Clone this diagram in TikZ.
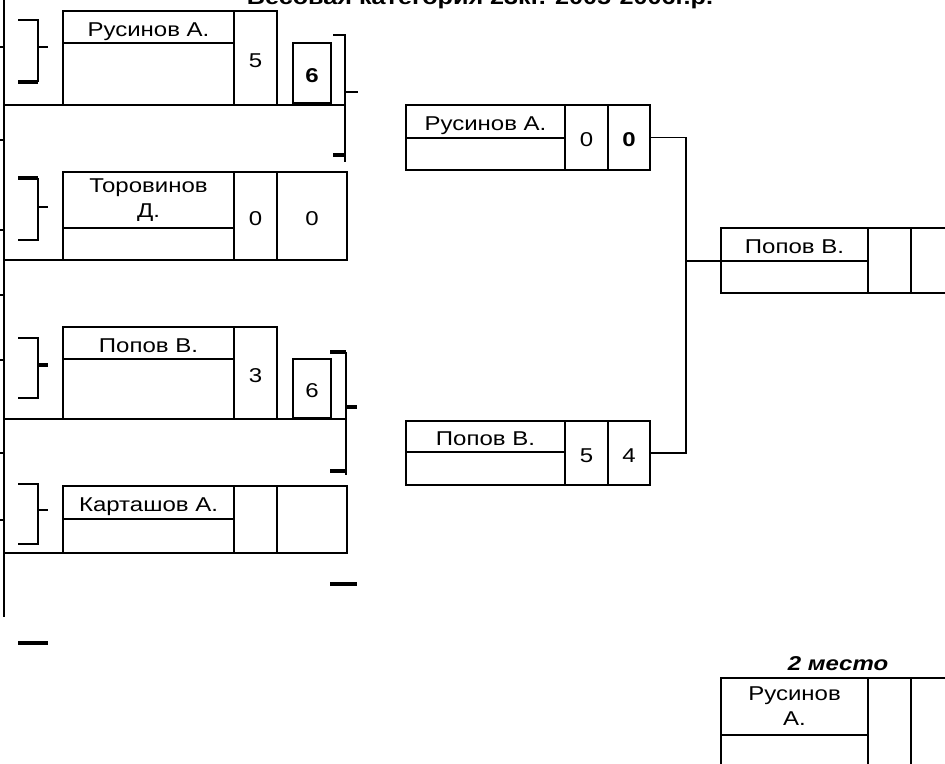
\documentclass[tikz,border=0pt]{standalone}
\usepackage{fontspec}
\setmainfont[FakeStretch=1.2]{Liberation Sans}

\begin{document}
\begin{tikzpicture}
  [x=1pt,y=-1pt,
   base cell/.style={draw,line width=1.8pt,inner sep=0pt,outer sep=0pt,align=center,
     font=\fontsize{20}{25}\selectfont},
   cell/.style={base cell,text height=18pt,text depth=0pt},
   two line cell/.style={base cell},
   bar/.style={line width=1.8pt},
   fat bar/.style={line width=3.6pt}]
  \clip (0,0) rectangle (945,763);

  \node[anchor=base,font=\fontsize{21}{24}\selectfont\bfseries] (title) at (480,4.5)
    {Весовая категория 23кг. 2005-2006г.р.};

  \node[cell,minimum width=171pt,minimum height=32pt] (rus1) at (148.5,27) {Русинов А.};
  \node[cell,minimum width=171pt,minimum height=62pt] (rus1low) at (148.5,74) {};
  \node[cell,minimum width=43pt,minimum height=94pt] (rus1pts) at (255.5,58) {5};
  \node[cell,minimum width=38pt,minimum height=60pt,font=\fontsize{20}{25}\selectfont\bfseries] (rus1tot) at (312,73) {6};

  \node[two line cell,minimum width=171pt,minimum height=56pt] (tor) at (148.5,200) {Торовинов\\Д.};
  \node[cell,minimum width=171pt,minimum height=32pt] (torlow) at (148.5,244) {};
  \node[cell,minimum width=43pt,minimum height=88pt] (torpts) at (255.5,216) {0};
  \node[cell,minimum width=70pt,minimum height=88pt] (tortot) at (312,216) {0};

  \node[cell,minimum width=171pt,minimum height=32pt] (pop1) at (148.5,343) {Попов В.};
  \node[cell,minimum width=171pt,minimum height=60pt] (pop1low) at (148.5,389) {};
  \node[cell,minimum width=43pt,minimum height=92pt] (pop1pts) at (255.5,373) {3};
  \node[cell,minimum width=38pt,minimum height=59pt] (pop1tot) at (312,388.5) {6};

  \node[cell,minimum width=171pt,minimum height=33pt] (kar) at (148.5,502.5) {Карташов А.};
  \node[cell,minimum width=171pt,minimum height=34pt] (karlow) at (148.5,536) {};
  \node[cell,minimum width=43pt,minimum height=67pt] (karpts) at (255.5,519.5) {};
  \node[cell,minimum width=70pt,minimum height=67pt] (kartot) at (312,519.5) {};

  \node[cell,minimum width=159pt,minimum height=33pt] (rus2) at (485.5,121.5) {Русинов А.};
  \node[cell,minimum width=159pt,minimum height=32pt] (rus2low) at (485.5,154) {};
  \node[cell,minimum width=43pt,minimum height=65pt] (rus2pts) at (586.5,137.5) {0};
  \node[cell,minimum width=42pt,minimum height=65pt,font=\fontsize{20}{25}\selectfont\bfseries] (rus2tot) at (629,137.5) {0};

  \node[cell,minimum width=159pt,minimum height=31pt] (pop2) at (485.5,436.5) {Попов В.};
  \node[cell,minimum width=159pt,minimum height=33pt] (pop2low) at (485.5,468.5) {};
  \node[cell,minimum width=43pt,minimum height=64pt] (pop2pts) at (586.5,453) {5};
  \node[cell,minimum width=42pt,minimum height=64pt] (pop2tot) at (629,453) {4};

  \node[cell,minimum width=147pt,minimum height=33pt] (fin) at (794.5,244.5) {Попов В.};
  \node[cell,minimum width=147pt,minimum height=32pt] (finlow) at (794.5,277) {};
  \node[cell,minimum width=43pt,minimum height=65pt] (finpts) at (889.5,260.5) {};
  \node[cell,minimum width=49pt,minimum height=65pt] (fintot) at (935.5,260.5) {};

  \node[anchor=base,font=\fontsize{20}{24}\selectfont\bfseries\itshape] (place) at (838,670) {2 место};
  \node[two line cell,minimum width=147pt,minimum height=57pt] (sec) at (794.5,706.5) {Русинов\\А.};
  \node[cell,minimum width=147pt,minimum height=70pt] (seclow) at (794.5,770) {};
  \node[cell,minimum width=43pt,minimum height=127pt] (secpts) at (889.5,741.5) {};
  \node[cell,minimum width=49pt,minimum height=127pt] (sectot) at (935.5,741.5) {};

  \coordinate (join) at (686,261);
  \draw[bar] (rus2tot.east) -| (join) |- (pop2tot.east);
  \draw[bar] (join) -- (fin.south west);

  \coordinate (left) at (4,0);
  \draw[line width=2.7pt] (left) -- (4,617);
  \foreach \y in {47,140,230,295,360,453,520}
    \draw[bar] (0,\y) -- (4,\y);
  \draw[bar] (left |- rus1low.south) -- (345,105);
  \draw[bar] (left |- pop1low.south) -- (345,419);
  \draw[bar] (torlow.south west -| left) -- (torlow.south west);
  \draw[bar] (karlow.south west -| left) -- (karlow.south west);

  \draw[bar] (18,20) -- (38,20) -- (38,82);
  \draw[fat bar] (18,82) -- (38,82);
  \draw[bar] (38,47) -- (48,47);
  \draw[fat bar] (18,178) -- (38,178);
  \draw[bar] (38,178) -- (38,240) -- (18,240);
  \draw[bar] (38,207) -- (48,207);
  \draw[bar] (18,338) -- (38,338) -- (38,398) -- (18,398);
  \draw[fat bar] (38,365) -- (48,365);
  \draw[bar] (18,484) -- (38,484) -- (38,544) -- (18,544);
  \draw[bar] (38,510) -- (48,510);

  \draw[bar] (333,35) -- (345,35) -- (345,162);
  \draw[fat bar] (333,155) -- (345,155);
  \draw[bar] (345,92) -- (358,92);
  \draw[fat bar] (330,352) -- (346,352);
  \draw[bar] (346,352) -- (346,475);
  \draw[fat bar] (330,471) -- (346,471);
  \draw[fat bar] (346,407) -- (357,407);
  \draw[fat bar] (330,584) -- (357,584);
  \draw[fat bar] (18,643) -- (48,643);
\end{tikzpicture}
\end{document}
